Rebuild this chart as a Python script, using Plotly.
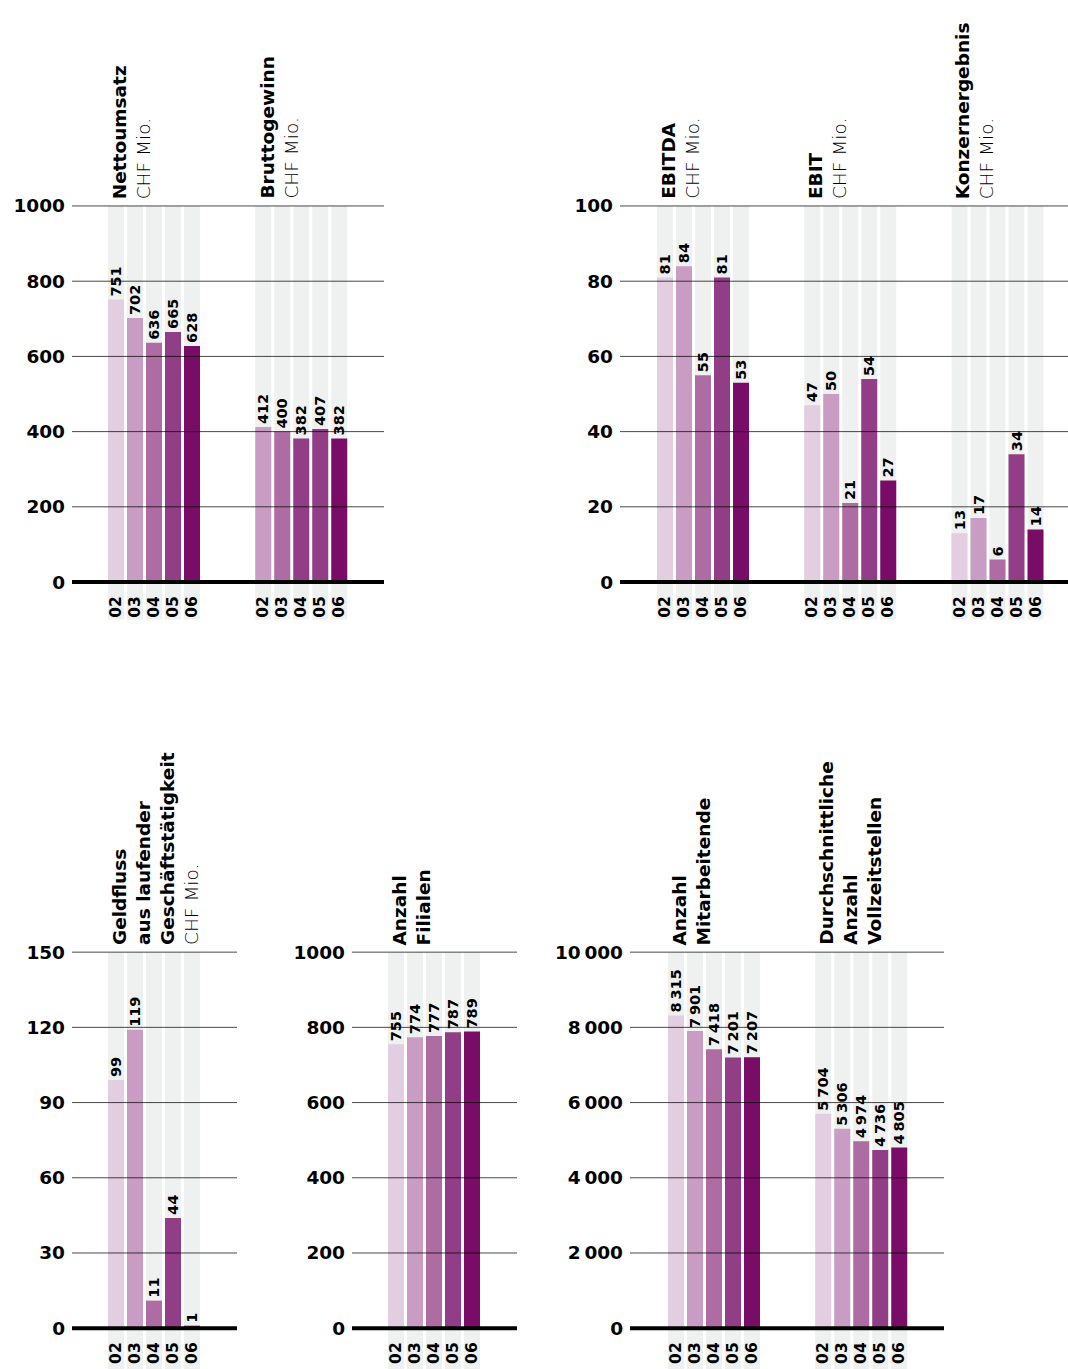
import plotly.graph_objects as go

W, H = 1068, 1369

# ---------------- data ----------------
years = ["02", "03", "04", "05", "06"]

nettoumsatz = [751, 702, 636, 665, 628]
bruttogewinn = [412, 400, 382, 407, 382]
ebitda = [81, 84, 55, 81, 53]
ebit = [47, 50, 21, 54, 27]
konzernergebnis = [13, 17, 6, 34, 14]
geldfluss = [99, 119, 11, 44, 1]
filialen = [755, 774, 777, 787, 789]
mitarbeitende = [8315, 7901, 7418, 7201, 7207]
vollzeitstellen = [5704, 5306, 4974, 4736, 4805]

ticks_1000 = [0, 200, 400, 600, 800, 1000]
ticktext_1000 = ["0", "200", "400", "600", "800", "1000"]
ticks_100 = [0, 20, 40, 60, 80, 100]
ticktext_100 = ["0", "20", "40", "60", "80", "100"]
ticks_150 = [0, 30, 60, 90, 120, 150]
ticktext_150 = ["0", "30", "60", "90", "120", "150"]
ticks_10000 = [0, 2000, 4000, 6000, 8000, 10000]
ticktext_10000 = ["0", "2\u2009000", "4\u2009000", "6\u2009000", "8\u2009000", "10\u2009000"]

# ---------------- style ----------------
C = ["#e3cde0", "#c99dc3", "#ad6ca2", "#923e86", "#780c66"]
C_BRUTTO = [C[1], C[2], C[3], C[3], C[4]]
BG = "#eff1f0"
FONT = "DejaVu Sans"
UNIT = "<span style='font-weight:200'>CHF Mio.</span>"

PITCH = 19.0      # px per bar slot
BARW = 16.0 / PITCH
GROUP = 7.75      # slots between groups

ROWS = {
    "top": dict(max_px=200, zero_px=578, top_px=196, bot_px=616),
    "bottom": dict(max_px=950, zero_px=1328, top_px=946, bot_px=1369),
}

panels = [
    dict(row="top", xpx=(72, 384), c0=116, vmax=1000, ticks=ticks_1000, ticktext=ticktext_1000,
         groups=[("<b>Nettoumsatz</b><br>" + UNIT, nettoumsatz, C),
                 ("<b>Bruttogewinn</b><br>" + UNIT, bruttogewinn, C_BRUTTO)]),
    dict(row="top", xpx=(620, 1068), c0=665, vmax=100, ticks=ticks_100, ticktext=ticktext_100,
         groups=[("<b>EBITDA</b><br>" + UNIT, ebitda, C),
                 ("<b>EBIT</b><br>" + UNIT, ebit, C),
                 ("<b>Konzernergebnis</b><br>" + UNIT, konzernergebnis, C)]),
    dict(row="bottom", xpx=(72, 237), c0=116, vmax=150, ticks=ticks_150, ticktext=ticktext_150,
         groups=[("<b>Geldfluss<br>aus laufender<br>Geschäftstätigkeit</b><br>" + UNIT, geldfluss, C)]),
    dict(row="bottom", xpx=(352, 517), c0=396, vmax=1000, ticks=ticks_1000, ticktext=ticktext_1000,
         groups=[("<b>Anzahl<br>Filialen</b>", filialen, C)]),
    dict(row="bottom", xpx=(630, 944), c0=676, vmax=10000, ticks=ticks_10000, ticktext=ticktext_10000,
         groups=[("<b>Anzahl<br>Mitarbeitende</b>", mitarbeitende, C),
                 ("<b>Durchschnittliche<br>Anzahl<br>Vollzeitstellen</b>", vollzeitstellen, C)]),
]


def fmt(v):
    return f"{v:,}".replace(",", "\u2009")


fig = go.Figure()
shapes = []
annotations = []
layout = {}

for n, p in enumerate(panels, start=1):
    sfx = "" if n == 1 else str(n)
    xa, ya = "x" + sfx, "y" + sfx
    r = ROWS[p["row"]]
    scale = p["vmax"] / (r["zero_px"] - r["max_px"])
    y0 = -(r["bot_px"] - r["zero_px"]) * scale
    y1 = (r["zero_px"] - r["top_px"]) * scale
    x0px, x1px = p["xpx"]

    tickvals, ticktext = [], []
    for g, (title, vals, cols) in enumerate(p["groups"]):
        xs = [g * GROUP + i for i in range(len(vals))]
        tickvals += xs
        ticktext += years
        # grey background columns
        fig.add_trace(go.Bar(
            x=xs, y=[p["vmax"] - y0] * len(xs), base=y0, width=BARW,
            marker=dict(color=BG, line=dict(width=0)),
            xaxis=xa, yaxis=ya, hoverinfo="skip", showlegend=False))
        # value bars
        fig.add_trace(go.Bar(
            x=xs, y=vals, width=BARW,
            marker=dict(color=cols, line=dict(width=0)),
            text=[fmt(v) for v in vals], textposition="outside", textangle=-90,
            textfont=dict(family=FONT, size=14.5, color="black", weight="bold"),
            constraintext="none", cliponaxis=False,
            xaxis=xa, yaxis=ya, showlegend=False))
        annotations.append(dict(
            text=title, xref=xa, x=xs[0] - 0.38, xanchor="left",
            yref="paper", y=1 - (r["max_px"] - 7) / H, yanchor="bottom",
            textangle=-90, align="left", showarrow=False,
            borderpad=0, borderwidth=0,
            font=dict(family=FONT, size=18.5, color="black")))

    layout["xaxis" + sfx] = dict(
        domain=[x0px / W, x1px / W],
        range=[(x0px - p["c0"]) / PITCH, (x1px - p["c0"]) / PITCH],
        anchor="free", position=1 - r["zero_px"] / H,
        tickmode="array", tickvals=tickvals, ticktext=ticktext, tickangle=-90,
        tickfont=dict(family=FONT, size=15.5, color="black", weight="bold"),
        showgrid=False, zeroline=False, showline=False, ticks="",
        ticklabelstandoff=10, fixedrange=True)
    layout["yaxis" + sfx] = dict(
        domain=[1 - r["bot_px"] / H, 1 - r["top_px"] / H],
        range=[y0, y1], anchor=xa,
        tickmode="array", tickvals=p["ticks"], ticktext=p["ticktext"],
        tickfont=dict(family=FONT, size=18.5, color="black", weight="bold"),
        showgrid=False, zeroline=False, showline=False, ticks="",
        ticklabelstandoff=6, fixedrange=True)

    for t in p["ticks"]:
        if t == 0:
            continue
        shapes.append(dict(type="line", xref=f"{xa} domain", x0=0, x1=1,
                           yref=ya, y0=t, y1=t, layer="above",
                           line=dict(color="rgba(0,0,0,0.72)", width=1)))
    shapes.append(dict(type="line", xref=f"{xa} domain", x0=0, x1=1,
                       yref=ya, y0=0, y1=0, layer="above",
                       line=dict(color="black", width=4)))

fig.update_layout(
    width=W, height=H, margin=dict(l=0, r=0, t=0, b=0),
    paper_bgcolor="white", plot_bgcolor="white",
    barmode="overlay", showlegend=False,
    font=dict(family=FONT, color="black"),
    shapes=shapes, annotations=annotations,
    **layout)

fig.write_html("out.html", config={"displayModeBar": False})
